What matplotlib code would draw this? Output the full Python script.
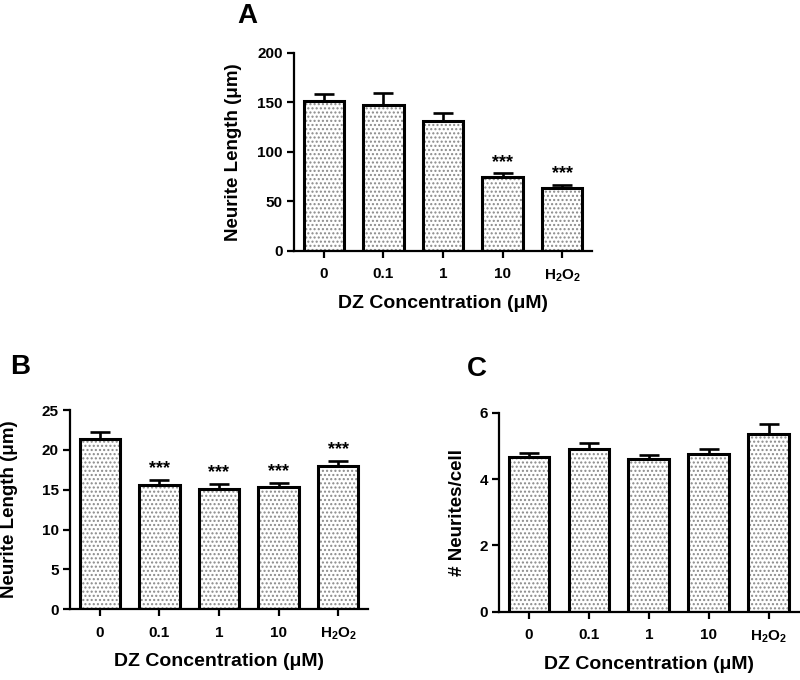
import matplotlib
matplotlib.use("Agg")
import matplotlib.pyplot as plt
import numpy as np

plt.rcParams['font.family'] = ['Liberation Sans', 'DejaVu Sans']
plt.rcParams['font.weight'] = 'bold'
plt.rcParams['mathtext.fontset'] = 'custom'
plt.rcParams['mathtext.rm'] = 'Liberation Sans:bold'
plt.rcParams['mathtext.bf'] = 'Liberation Sans:bold'
plt.rcParams['mathtext.it'] = 'Liberation Sans:bold'
plt.rcParams['mathtext.default'] = 'rm'
plt.rcParams['hatch.linewidth'] = 1.0

categories = ['0', '0.1', '1', '10', 'H$_2$O$_2$']

a_values = [151, 147, 131, 74, 63.5]
a_errors = [7, 12, 8, 4, 2.5]
a_sig = ['', '', '', '***', '***']

b_values = [21.4, 15.6, 15.1, 15.35, 18.0]
b_errors = [0.8, 0.6, 0.6, 0.5, 0.65]
b_sig = ['', '***', '***', '***', '***']

c_values = [4.67, 4.91, 4.62, 4.77, 5.35]
c_errors = [0.12, 0.19, 0.12, 0.13, 0.32]

fig = plt.figure(figsize=(8, 6.8), dpi=100)

def panel(rect, values, errors, sig, ylim, yticks, ylabel, letter, letter_xy, ylabel_px):
    ax = fig.add_axes(rect)
    x = np.arange(len(values))
    ax.bar(x, values, width=0.68, color='white', edgecolor='#8a8a8a',
           hatch='....', linewidth=0, zorder=2)
    ax.bar(x, values, width=0.68, color='none', edgecolor='black',
           linewidth=2.2, zorder=3)
    ax.errorbar(x, values, yerr=[np.zeros(len(values)), errors], fmt='none',
                ecolor='black', elinewidth=1.9, capsize=7, capthick=1.9, zorder=1)
    for xi, v, e, s in zip(x, values, errors, sig):
        if s:
            ax.annotate(s, (xi, v + e), xytext=(0, 2), textcoords='offset points',
                        ha='center', va='bottom', fontsize=13, fontweight='bold')
    ax.set_xlim(-0.5, len(values) - 0.5)
    ax.set_ylim(*ylim)
    ax.set_yticks(yticks)
    ax.set_xticks(x)
    ax.set_xticklabels(categories)
    for sp in ['top', 'right']:
        ax.spines[sp].set_visible(False)
    for sp in ['left', 'bottom']:
        ax.spines[sp].set_linewidth(1.6)
    ax.tick_params(axis='both', direction='out', length=5, width=1.6,
                   labelsize=11, pad=3)
    for lab in ax.get_xticklabels() + ax.get_yticklabels():
        lab.set_fontweight('bold')
    ax.tick_params(axis='x', pad=7)
    ax.set_xlabel('DZ Concentration (μM)', fontsize=14, fontweight='bold', labelpad=8)
    fig.text(ylabel_px / 800, rect[1] + rect[3] / 2, ylabel, fontsize=13.5,
             fontweight='bold', rotation=90, ha='center', va='center')
    fig.text(letter_xy[0], letter_xy[1], letter, fontsize=20, fontweight='bold',
             ha='center', va='center')
    return ax

panel([0.3675, 0.6313, 0.3725, 0.2912], a_values, a_errors, a_sig,
      (0, 200), [0, 50, 100, 150, 200], 'Neurite Length (μm)', 'A',
      (247 / 800, 1 - 16 / 680), 234)
panel([0.0875, 0.104, 0.3725, 0.293], b_values, b_errors, b_sig,
      (0, 25), [0, 5, 10, 15, 20, 25], 'Neurite Length (μm)', 'B',
      (20 / 800, 1 - 367 / 680), 10)
panel([0.62375, 0.1004, 0.3745, 0.2926], c_values, c_errors, ['']*5,
      (0, 6), [0, 2, 4, 6], '# Neurites/cell', 'C',
      (477 / 800, 1 - 369 / 680), 457)

fig.savefig('out.png', dpi=100)
